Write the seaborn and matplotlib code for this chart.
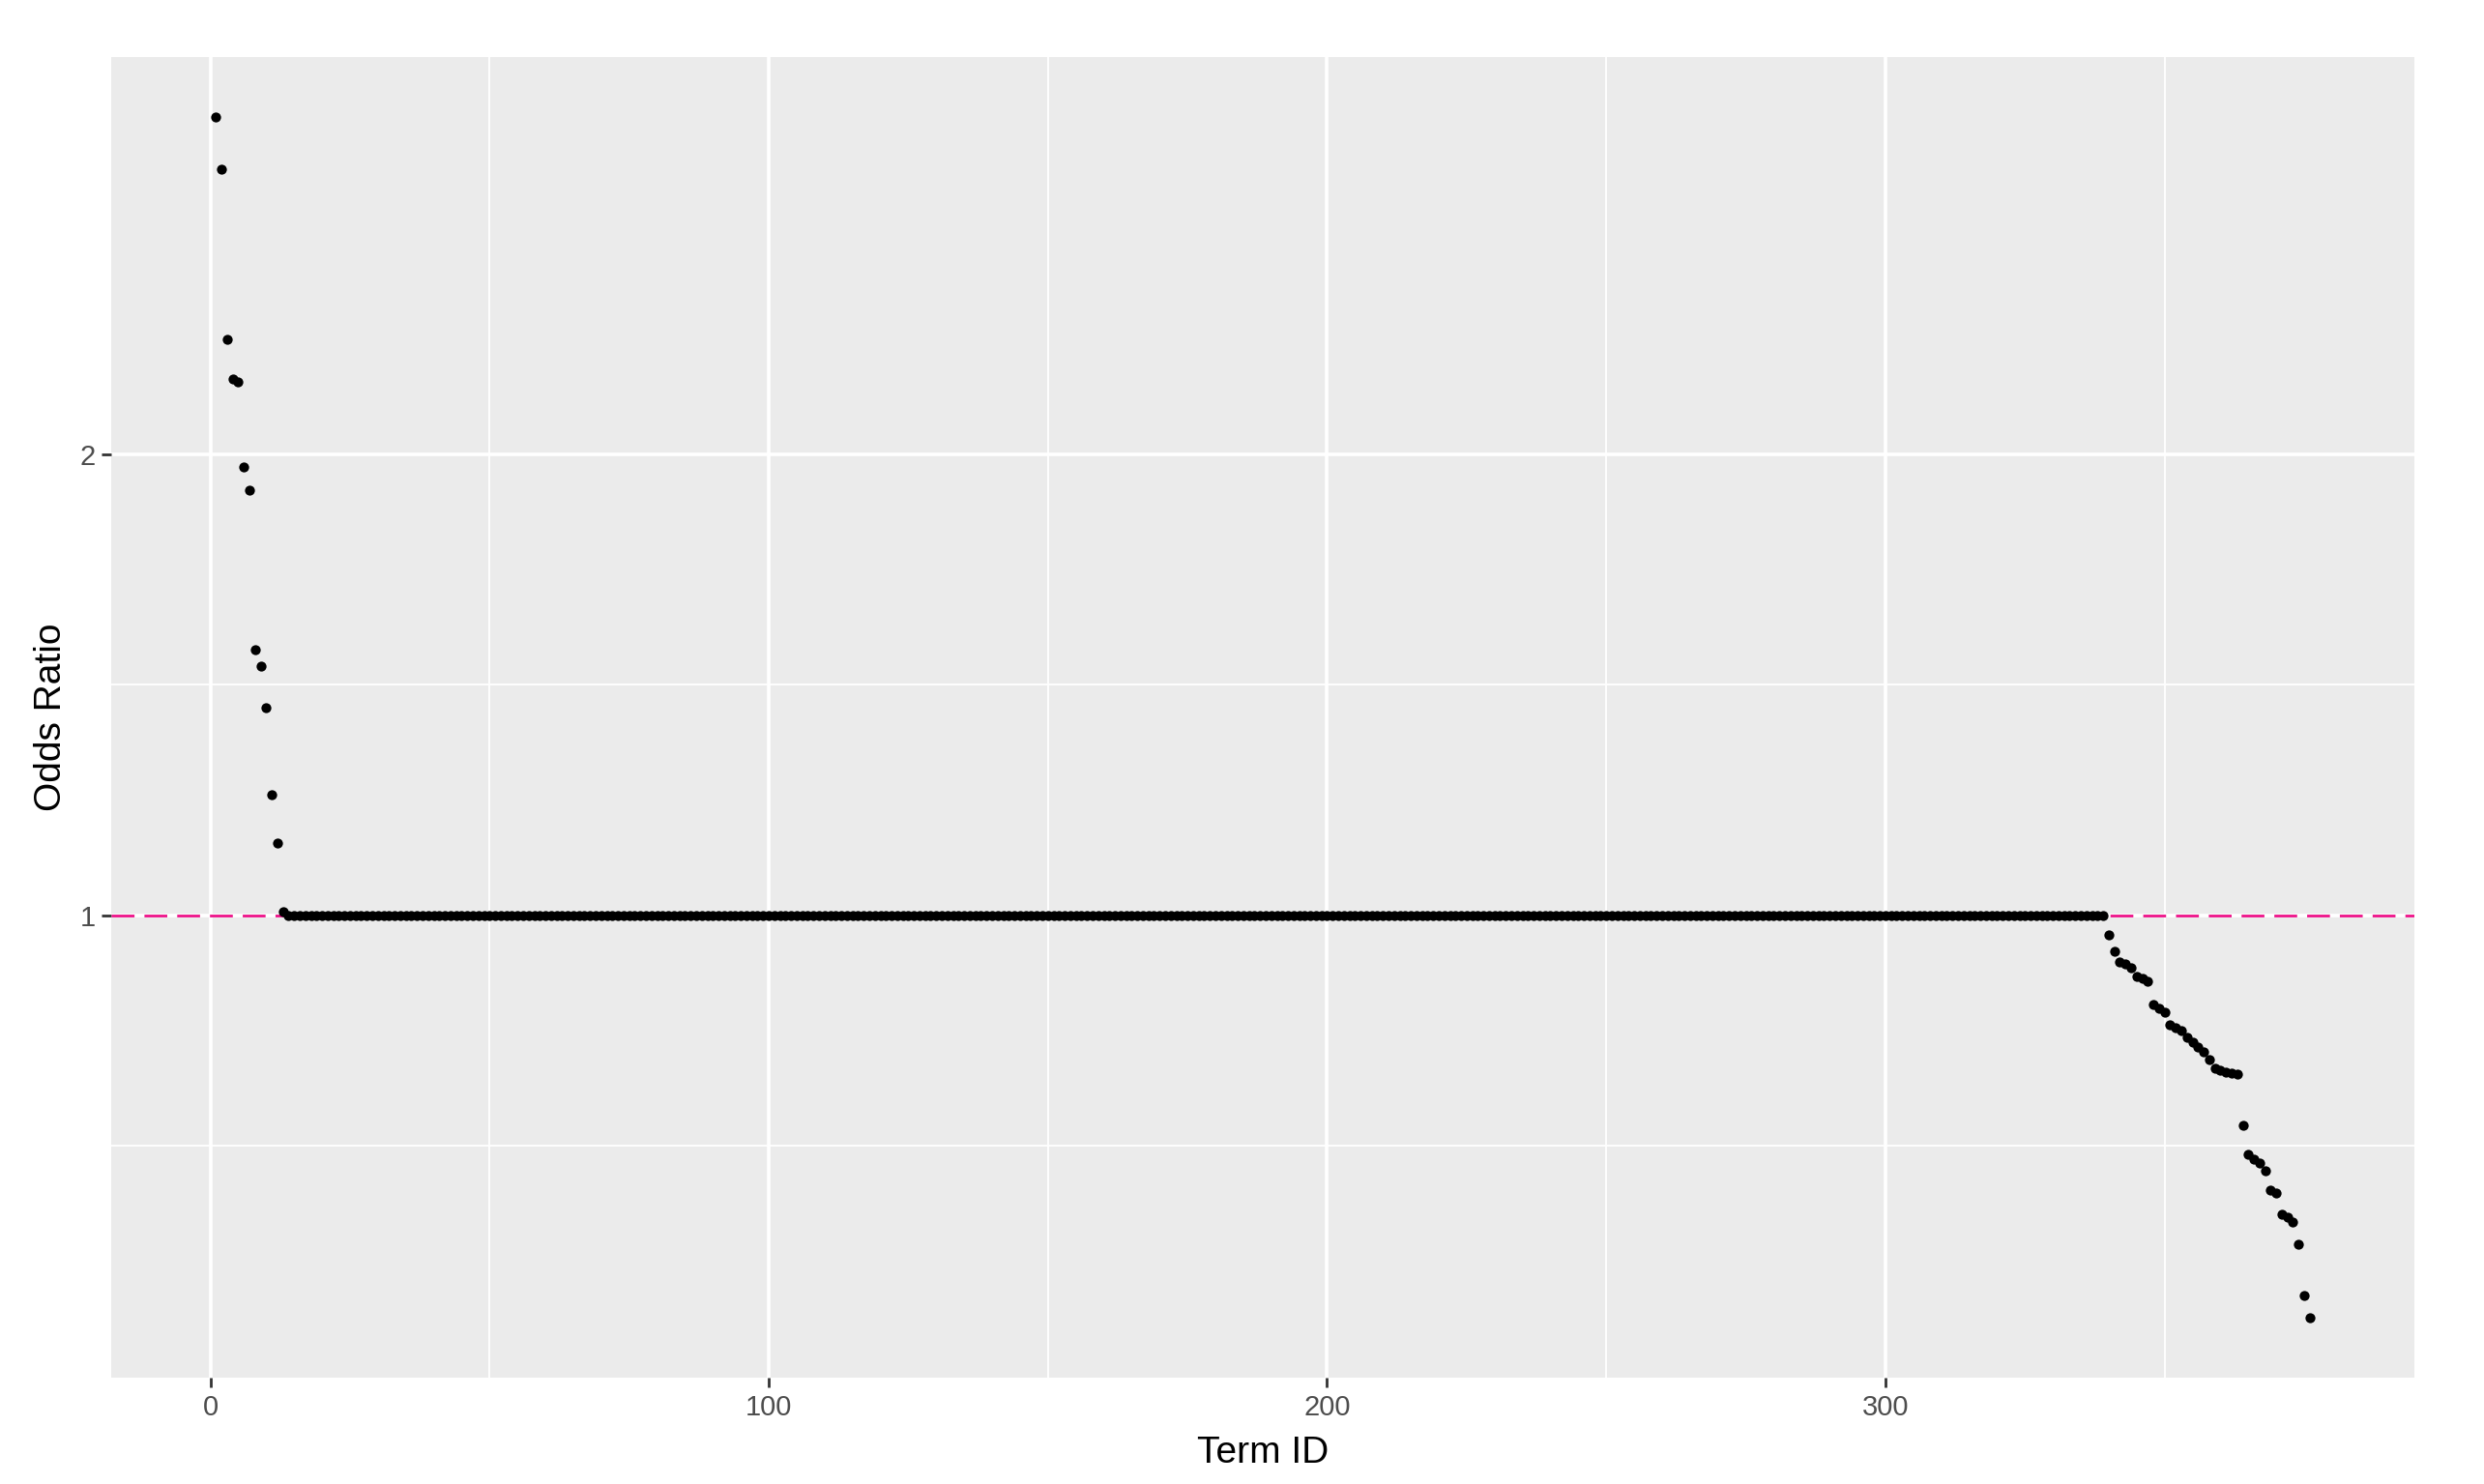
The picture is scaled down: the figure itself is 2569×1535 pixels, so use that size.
import numpy as np
import pandas as pd
import seaborn as sns
import matplotlib.pyplot as plt
from matplotlib.ticker import FixedLocator

# odds ratios, ordered by term id
head_or = [2.731, 2.617, 2.248, 2.164, 2.156, 1.973, 1.921, 1.576, 1.540,
           1.451, 1.261, 1.156, 1.009]
flat_or = [1.0] * 326          # terms 14..339 sit on OR = 1
tail_or = [0.957, 0.922, 0.899, 0.894, 0.887, 0.868, 0.863, 0.857, 0.807,
           0.798, 0.791, 0.763, 0.757, 0.750, 0.736, 0.725, 0.715, 0.704,
           0.687, 0.668, 0.664, 0.661, 0.659, 0.656, 0.544, 0.481, 0.471,
           0.464, 0.447, 0.405, 0.398, 0.353, 0.345, 0.335, 0.286, 0.176,
           0.128]

odds = head_or + flat_or + tail_or
df = pd.DataFrame({"term_id": np.arange(1, len(odds) + 1), "odds_ratio": odds})

x_breaks = [0, 100, 200, 300]
x_minor = [50, 150, 250, 350]
y_breaks = [1, 2]
y_minor = [0.5, 1.5]

sns.set_theme(style="darkgrid", rc={
    "axes.facecolor": "#EBEBEB",
    "grid.color": "white",
    "axes.edgecolor": "#EBEBEB",
})
plt.rcParams['font.family'] = ['Liberation Sans', 'DejaVu Sans']

fig = plt.figure(figsize=(25.69, 15.35), dpi=100)
ax = fig.add_axes([0.0448, 0.0717, 0.9272, 0.8899])

ax.axhline(1, color="#EE1289", lw=2.0, dashes=(8.5, 3.7), zorder=1)
sns.scatterplot(data=df, x="term_id", y="odds_ratio", ax=ax, color="black",
                s=55, linewidth=0, zorder=3)

rng = df["term_id"].max() - df["term_id"].min()
ax.set_xlim(df["term_id"].min() - 0.05 * rng, df["term_id"].max() + 0.05 * rng)
yr = max(odds) - min(odds)
ax.set_ylim(min(odds) - 0.05 * yr, max(odds) + 0.05 * yr)

ax.xaxis.set_major_locator(FixedLocator(x_breaks))
ax.xaxis.set_minor_locator(FixedLocator(x_minor))
ax.yaxis.set_major_locator(FixedLocator(y_breaks))
ax.yaxis.set_minor_locator(FixedLocator(y_minor))
ax.grid(which="major", color="white", lw=2.6)
ax.grid(which="minor", color="white", lw=1.3)
ax.set_axisbelow(True)
for s in ax.spines.values():
    s.set_visible(False)

ax.tick_params(axis="both", which="major", length=7, width=2, color="#333333",
               labelsize=21, labelcolor="#4D4D4D", pad=5, bottom=True, left=True)
ax.tick_params(axis="both", which="minor", length=0)

ax.set_xlabel("Term ID", fontsize=28, color="black", labelpad=11)
ax.set_ylabel("Odds Ratio", fontsize=28, color="black", labelpad=8)

fig.savefig("out.png", dpi=100, facecolor="white")
